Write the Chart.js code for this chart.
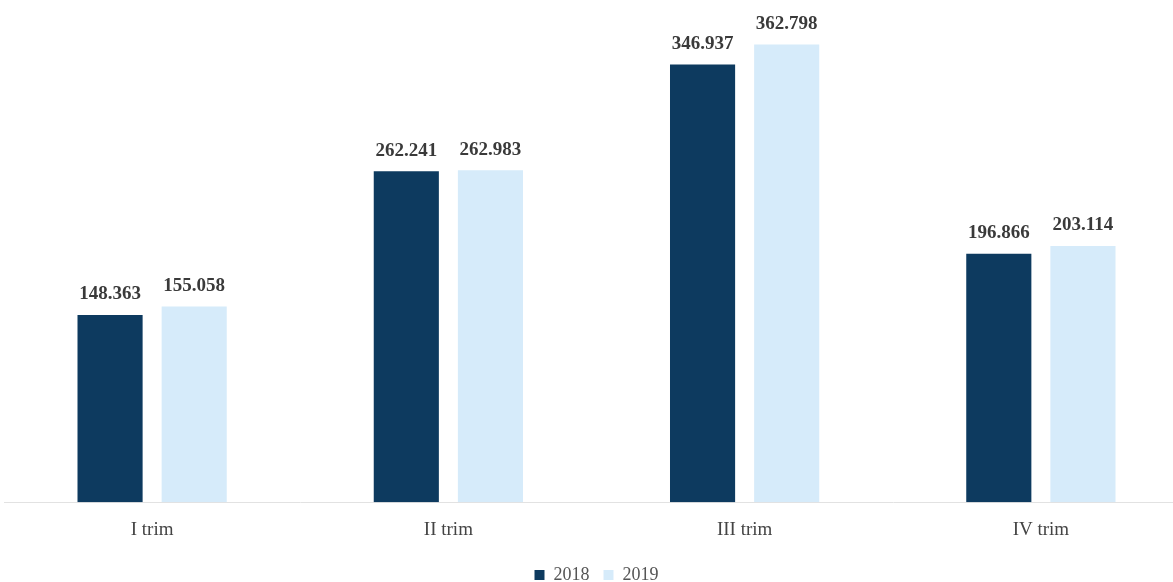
<!DOCTYPE html>
<html>
<head>
<meta charset="utf-8">
<script src="https://cdn.jsdelivr.net/npm/chart.js@4"></script>
<style>
  html, body { margin: 0; padding: 0; background: #fff; overflow: hidden; }
  #wrap { width: 1189px; height: 594px; }
</style>
</head>
<body>
<div id="wrap"><canvas id="trimChart"></canvas></div>
<script>
const trimestri = ["I trim", "II trim", "III trim", "IV trim"];
const anni = ["2018", "2019"];
const valori2018 = [148.363, 262.241, 346.937, 196.866];
const valori2019 = [155.058, 262.983, 362.798, 203.114];

const serif = '"Liberation Serif", "DejaVu Serif", serif';

// etichette sopra le barre, formato 148.363
const etichette = {
    id: 'etichette',
    afterDatasetsDraw(chart) {
        const ctx = chart.ctx;
        ctx.save();
        ctx.font = 'bold 19px ' + serif;
        ctx.fillStyle = '#3a3a3a';
        ctx.textAlign = 'center';
        ctx.textBaseline = 'bottom';
        chart.data.datasets.forEach((ds, i) => {
            chart.getDatasetMeta(i).data.forEach((bar, j) => {
                ctx.fillText(ds.data[j].toFixed(3), bar.x, bar.y - 11);
            });
        });
        ctx.restore();
    }
};

const ctx = document.getElementById('trimChart').getContext('2d');
new Chart(ctx, {
    type: 'bar',
    data: {
        labels: trimestri,
        datasets: [{
            label: anni[0],
            data: valori2018,
            backgroundColor: '#0d3a5f',
            categoryPercentage: 0.568,
            barPercentage: 0.774
        }, {
            label: anni[1],
            data: valori2019,
            backgroundColor: '#d6ebfa',
            categoryPercentage: 0.568,
            barPercentage: 0.774
        }]
    },
    options: {
        responsive: true,
        maintainAspectRatio: false,
        animation: false,
        layout: {
            padding: { left: 4, right: 0, top: 0, bottom: 0 }
        },
        plugins: {
            legend: {
                position: 'bottom',
                labels: {
                    color: '#555555',
                    boxWidth: 10,
                    boxHeight: 10,
                    padding: 14,
                    font: { family: serif, size: 18 }
                }
            },
            tooltip: { enabled: false }
        },
        scales: {
            x: {
                grid: { display: false },
                border: { color: '#e2e2e2' },
                ticks: {
                    color: '#444444',
                    padding: 8,
                    font: { family: serif, size: 19 }
                },
                afterFit(scale) { scale.height += 3; }
            },
            y: {
                display: false,
                min: 0,
                max: 398
            }
        }
    },
    plugins: [etichette]
});
</script>
</body>
</html>
